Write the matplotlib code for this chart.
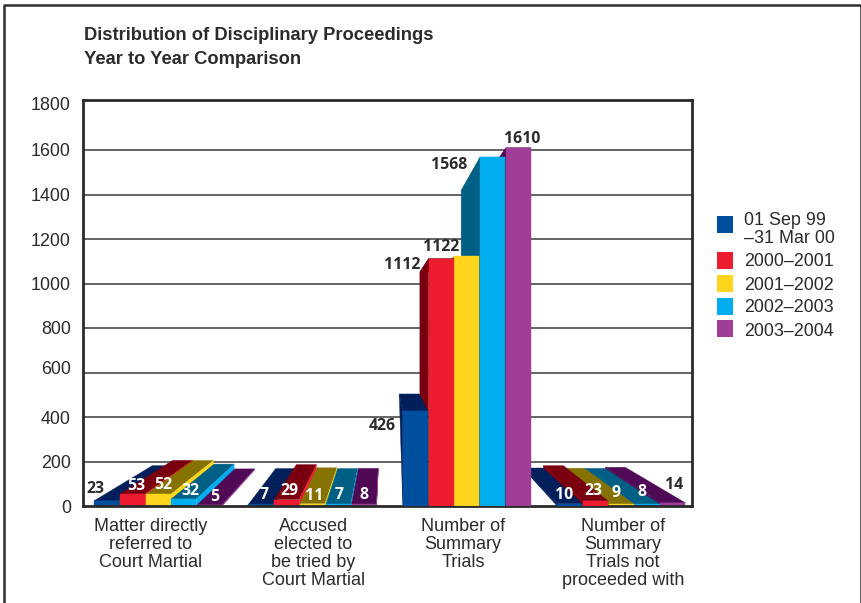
import matplotlib
matplotlib.use("Agg")
import matplotlib.pyplot as plt
from matplotlib.patches import Rectangle
from matplotlib.lines import Line2D
from matplotlib.transforms import ScaledTranslation

title = "Distribution of Disciplinary Proceedings\nYear to Year Comparison"
categories = ["Matter directly\nreferred to\nCourt Martial",
              "Accused\nelected to\nbe tried by\nCourt Martial",
              "Number of\nSummary\nTrials",
              "Number of\nSummary\nTrials not\nproceeded with"]
series_names = ["01 Sep 99\n\u201331 Mar 00", "2000\u20132001", "2001\u20132002",
                "2002\u20132003", "2003\u20132004"]
sep99_mar00 = [23, 7, 426, 10]
y2000_2001 = [53, 29, 1112, 23]
y2001_2002 = [52, 11, 1122, 9]
y2002_2003 = [32, 7, 1568, 8]
y2003_2004 = [5, 8, 1610, 14]
series = [sep99_mar00, y2000_2001, y2001_2002, y2002_2003, y2003_2004]
y_ticks = [0, 200, 400, 600, 800, 1000, 1200, 1400, 1600, 1800]

# styling
front = ["#004f9f", "#ed1c2e", "#ffd51e", "#00aeef", "#a03d96"]
dark = ["#001f5b", "#7a0010", "#857200", "#005f85", "#500a55"]
ink = "#2b2b2b"
W, H = 862, 603
L, R, T, B = 83, 692.5, 99.5, 506
PX_PER_UNIT = 44.5 / 200
GROUP_STEP = 154.4
G0 = 158.5               # pixel centre of first group
BAR_STEP = 25.8 / GROUP_STEP
BAR_W = 25.0 / GROUP_STEP
DEPTH = 0.8              # scale of back face
VX = (385 - G0) / GROUP_STEP
VY = (B - 325) / PX_PER_UNIT

plt.rcParams["font.family"] = ["Liberation Sans", "DejaVu Sans"]
fig = plt.figure(figsize=(W / 100, H / 100), dpi=100)
fig.patch.set_facecolor("white")
ax = fig.add_axes([L / W, 1 - B / H, (R - L) / W, (B - T) / H])
ax.set_xlim((L - G0) / GROUP_STEP, (R - G0) / GROUP_STEP)
ax.set_ylim(0, (B - T) / PX_PER_UNIT)
ax.set_xticks([])
ax.set_yticks(y_ticks)
ax.tick_params(axis="y", length=0, pad=8.8, labelsize=12.9, labelcolor=ink)
for s in ax.spines.values():
    s.set_linewidth(2)
    s.set_color("#2a2a2a")
    s.set_zorder(50)
for v in y_ticks[1:-1]:
    ax.axhline(v, color="#3a3a3a", lw=1.1, zorder=1)

# small vertical nudges of tick labels seen in the reference (px, up positive)
nudges = {1800: 2.5, 600: 5.5, 0: -0.5, 1600: 0.5}
for v, lab in zip(y_ticks, ax.get_yticklabels()):
    if v in nudges:
        lab.set_transform(lab.get_transform() +
                          ScaledTranslation(0, nudges[v] / 100, fig.dpi_scale_trans))


def back(x, y):
    return VX + DEPTH * (x - VX), VY + DEPTH * (y - VY)


z = [10]


def poly(points, color):
    xs, ys = zip(*points)
    ax.fill(xs, ys, color=color, lw=0.3, zorder=z[0])
    z[0] += 1


def draw_bar(x0, x1, v, i, right_of_vp):
    poly([(x0, v), (x1, v), back(x1, v), back(x0, v)], dark[i])
    if right_of_vp and i == 0:
        poly([(x0, 0), (x0, v), back(x0, v)], dark[i])
    elif right_of_vp:
        poly([(x0, 0), (x0, v), back(x0, v), back(x0, 0)], dark[i])
    else:
        poly([(x1, 0), (x1, v), back(x1, v), back(x1, 0)], front[i])
    poly([(x0, 0), (x1, 0), (x1, v), (x0, v)], front[i])


# groups nearest the vanishing point are painted last
for g in [0, 1, 3, 2]:
    left_edge = g - 2.5 * BAR_STEP
    right_of_vp = left_edge > VX
    order = range(4, -1, -1) if right_of_vp else range(5)
    for i in order:
        x0 = left_edge + i * BAR_STEP
        draw_bar(x0, x0 + BAR_W, series[i][g], i, right_of_vp)


def ftext(x, y, s, **kw):
    return fig.text(x / W, 1 - y / H, s, **kw)


# frame around the figure (open at the bottom)
fig.add_artist(Line2D([4 / W, 4 / W, 861 / W, 861 / W],
                      [0, 1 - 5 / H, 1 - 5 / H, 0], color="#2e2e2e", lw=1.8))

ftext(84, 47.5, title, fontsize=13.2, fontweight="bold", color=ink,
      va="center", ha="left", linespacing=1.5)

# category labels
cat_x = [151, 313.5, 463, 623]
for x, c in zip(cat_x, categories):
    ftext(x, 518, c, fontsize=13, color=ink, ha="center", va="top", linespacing=1.08)

# value labels
label_px = [
    [(95, 489), (136, 486), (163, 485), (190, 491), (215, 497)],
    [(264, 495), (289, 491), (314, 496), (339, 495), (364, 495)],
    [(382, 426), (402, 265), (441, 247), (449, 165), (522, 139)],
    [(564, 495), (593, 491), (616, 493), (642, 492), (674, 485)],
]
white = {(0, 1), (0, 2), (0, 3), (0, 4), (1, 0), (1, 1), (1, 2), (1, 3), (1, 4),
         (3, 0), (3, 1), (3, 2), (3, 3)}
for g, row in enumerate(label_px):
    for i, (x, y) in enumerate(row):
        ftext(x, y, str(series[i][g]), family=["Open Sans", "DejaVu Sans"],
              fontweight="bold", fontsize=11.4,
              color="white" if (g, i) in white else ink,
              ha="center", va="center", zorder=100)

# legend
swatch_y = [216, 252, 275, 298, 320]
text_y = [229.5, 262, 285, 308, 331]
for y, ty, c, name in zip(swatch_y, text_y, front, series_names):
    fig.add_artist(Rectangle((717 / W, 1 - (y + 17) / H), 16 / W, 17 / H,
                             transform=fig.transFigure, color=c, lw=0))
    ftext(744.5, ty, name, fontsize=12.9, color=ink, ha="left", va="center",
          linespacing=1.15)

fig.savefig("out.png", dpi=100, facecolor="white")
